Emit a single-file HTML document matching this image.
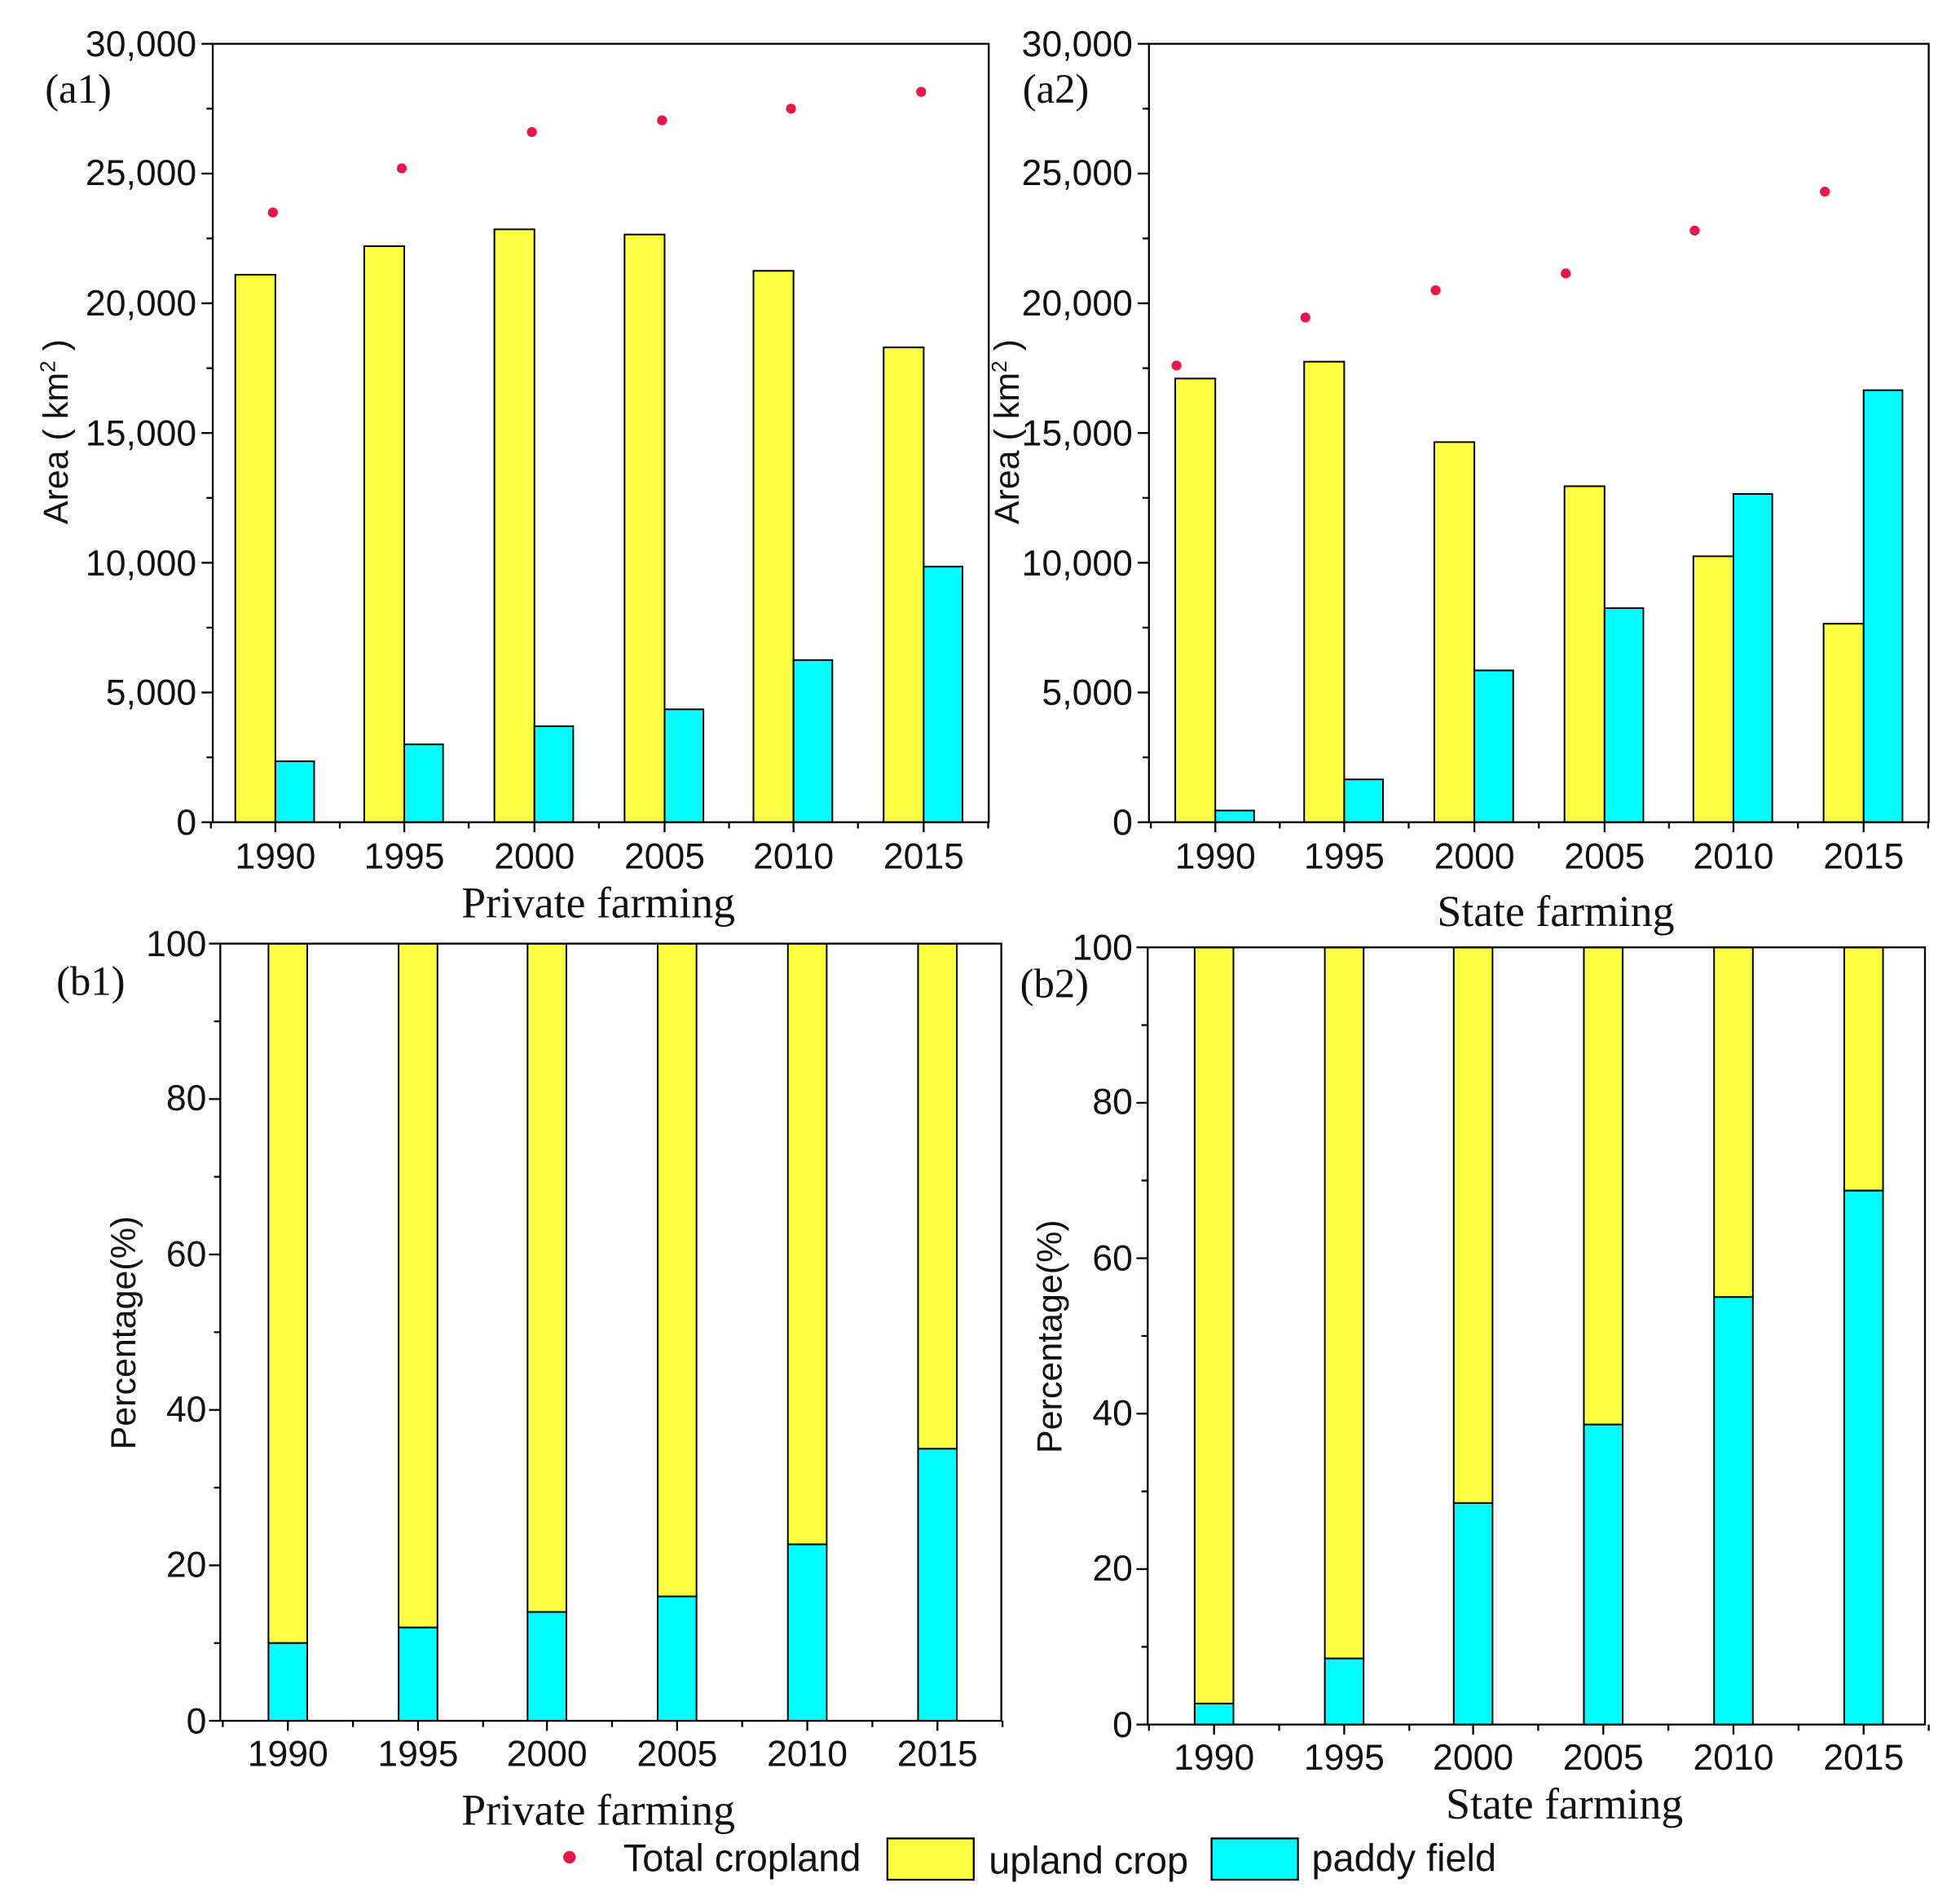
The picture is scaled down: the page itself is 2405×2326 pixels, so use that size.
<!DOCTYPE html>
<html><head><meta charset="utf-8"><style>
html,body{margin:0;padding:0;background:#fff;}
svg{display:block;}
text{font-family:"Liberation Sans",sans-serif;fill:#111;}
.s{font-family:"Liberation Serif",serif;}
</style></head><body>
<svg id="c" width="2405" height="2326" viewBox="0 0 1566 1515" preserveAspectRatio="none" xmlns="http://www.w3.org/2000/svg">
<rect width="1566" height="1515" fill="#fff"/>
<g id="g"></g>
<g font-size="29" text-anchor="end">
<text x="157" y="45">30,000</text><text x="157" y="148">25,000</text><text x="157" y="252">20,000</text><text x="157" y="356">15,000</text><text x="157" y="460">10,000</text><text x="157" y="563">5,000</text><text x="157" y="667">0</text>
<text x="905" y="45">30,000</text><text x="905" y="148">25,000</text><text x="905" y="252">20,000</text><text x="905" y="356">15,000</text><text x="905" y="460">10,000</text><text x="905" y="563">5,000</text><text x="905" y="667">0</text>
<text x="165" y="764">100</text><text x="165" y="887">80</text><text x="165" y="1012">60</text><text x="165" y="1136">40</text><text x="165" y="1260">20</text><text x="165" y="1385">0</text>
<text x="905" y="767">100</text><text x="905" y="890">80</text><text x="905" y="1015">60</text><text x="905" y="1139">40</text><text x="905" y="1263">20</text><text x="905" y="1388">0</text>
</g>
<g font-size="29" text-anchor="middle">
<text x="220" y="694">1990</text><text x="323" y="694">1995</text><text x="427" y="694">2000</text><text x="531" y="694">2005</text><text x="634" y="694">2010</text><text x="738" y="694">2015</text>
<text x="971" y="694">1990</text><text x="1074" y="694">1995</text><text x="1178" y="694">2000</text><text x="1282" y="694">2005</text><text x="1385" y="694">2010</text><text x="1489" y="694">2015</text>
<text x="230" y="1411">1990</text><text x="334" y="1411">1995</text><text x="437" y="1411">2000</text><text x="541" y="1411">2005</text><text x="645" y="1411">2010</text><text x="749" y="1411">2015</text>
<text x="970" y="1414">1990</text><text x="1074" y="1414">1995</text><text x="1177" y="1414">2000</text><text x="1281" y="1414">2005</text><text x="1385" y="1414">2010</text><text x="1489" y="1414">2015</text>
</g>
<g font-size="35" text-anchor="middle">
<text class="s" x="478" y="733">Private farming</text>
<text class="s" x="1243" y="740">State farming</text>
<text class="s" x="478" y="1458">Private farming</text>
<text class="s" x="1250" y="1453">State farming</text>
</g>
<g font-size="33">
<text class="s" x="36" y="82">(a1)</text><text class="s" x="817" y="82">(a2)</text>
<text class="s" x="45" y="795">(b1)</text><text class="s" x="815" y="797">(b2)</text>
</g>
<g font-size="28" text-anchor="middle">
<text transform="translate(54,345) rotate(-90)">Area ( km<tspan font-size="17" dy="-10">2</tspan><tspan dy="10"> )</tspan></text>
<text transform="translate(814,345) rotate(-90)">Area ( km<tspan font-size="17" dy="-10">2</tspan><tspan dy="10"> )</tspan></text>
<text transform="translate(108,1065) rotate(-90)">Percentage(%)</text>
<text transform="translate(848,1068) rotate(-90)">Percentage(%)</text>
</g>
<circle cx="455" cy="1484" r="5" fill="#e8174a"/>
<text x="498" y="1495" font-size="30.5">Total cropland</text>
<rect x="709" y="1469" width="69" height="33" fill="#ffff44" stroke="#000" stroke-width="1.5"/>
<text x="790" y="1497" font-size="30.5">upland crop</text>
<rect x="968" y="1469" width="69" height="33" fill="#00ffff" stroke="#000" stroke-width="1.5"/>
<text x="1048" y="1495" font-size="30.5">paddy field</text>
</svg>
<script>
var g=document.getElementById('g'),h='';
function R(x,y,w,hh,f){h+='<rect x="'+x+'" y="'+y+'" width="'+w+'" height="'+hh+'" fill="'+f+'" stroke="#000" stroke-width="1.3"/>';}
function L(a,b,c,d){h+='<line x1="'+a+'" y1="'+b+'" x2="'+c+'" y2="'+d+'" stroke="#000" stroke-width="1.5"/>';}
var Y='#ffff44',C='#00ffff';
function axes(l,r,t,b,centers,nMaj){
 h+='<rect x="'+l+'" y="'+t+'" width="'+(r-l)+'" height="'+(b-t)+'" fill="none" stroke="#000" stroke-width="1.5"/>';
 for(var i=0;i<=nMaj*2;i++){var y=b-(b-t)*i/(nMaj*2);L(l,y,l-(i%2?5:9),y);}
 var sp=centers[1]-centers[0];
 for(var i=0;i<centers.length;i++){L(centers[i],b,centers[i],b+8);L(centers[i]+sp/2,b,centers[i]+sp/2,b+5);}
 L(centers[0]-sp/2,b,centers[0]-sp/2,b+5);
}
var c1=[220,323,427,531,634,738],ya=function(v){return 657-v*622/30000};
var yv=[21100,22200,22850,22650,21250,18300],cv=[2350,3000,3700,4350,6250,9850],dv=[23500,25200,26600,27050,27500,28150];
for(var i=0;i<6;i++){R(c1[i]-32,ya(yv[i]),32,657-ya(yv[i]),Y);R(c1[i],ya(cv[i]),31,657-ya(cv[i]),C);h+='<circle cx="'+(c1[i]-2)+'" cy="'+ya(dv[i])+'" r="4" fill="#e8174a"/>';}
axes(170,790,35,657,c1,6);
var c2=[971,1074,1178,1282,1385,1489];
yv=[17100,17750,14650,12950,10250,7650];cv=[450,1650,5850,8250,12650,16650];dv=[17600,19450,20500,21150,22800,24300];
for(var i=0;i<6;i++){R(c2[i]-32,ya(yv[i]),32,657-ya(yv[i]),Y);R(c2[i],ya(cv[i]),31,657-ya(cv[i]),C);h+='<circle cx="'+(c2[i]-31)+'" cy="'+ya(dv[i])+'" r="4" fill="#e8174a"/>';}
axes(918,1541,35,657,c2,6);
var c3=[230,334,437,541,645,749];var p=[10,12,14,16,22.7,35];
for(var i=0;i<6;i++){var y=1375-p[i]*6.21;R(c3[i]-15.5,754,31,y-754,Y);R(c3[i]-15.5,y,31,1375-y,C);}
axes(176,800,754,1375,c3,5);
var c4=[970,1074,1177,1281,1385,1489];p=[2.7,8.5,28.5,38.6,55,68.7];
for(var i=0;i<6;i++){var y=1378-p[i]*6.21;R(c4[i]-15.5,757,31,y-757,Y);R(c4[i]-15.5,y,31,1378-y,C);}
axes(917,1538,757,1378,c4,5);
g.innerHTML=h;
</script>
</body></html>
